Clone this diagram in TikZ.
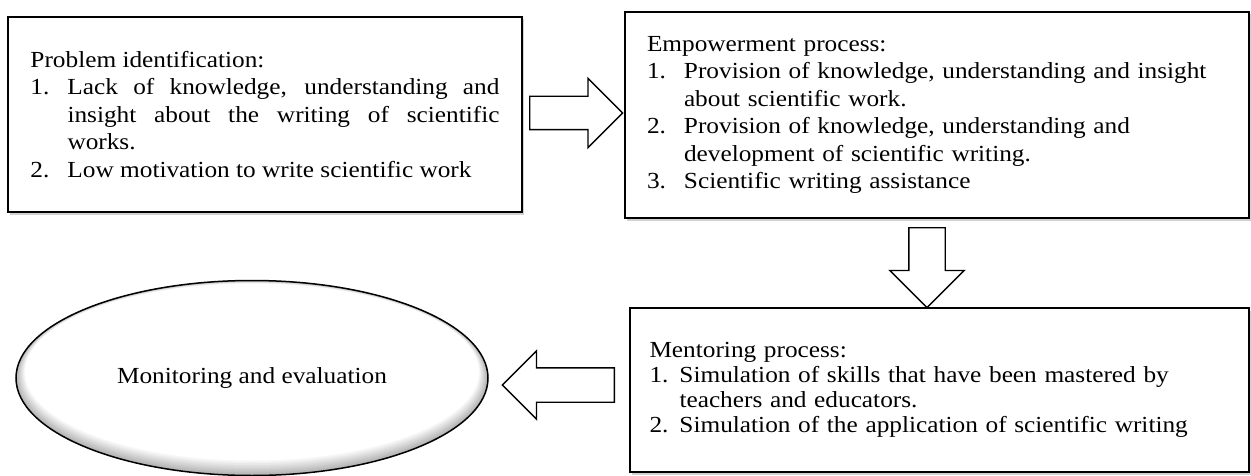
\documentclass[tikz,border=0pt]{standalone}
\usepackage{fontspec}
\setmainfont{Liberation Serif}[FakeStretch=1.1]
\usetikzlibrary{shapes.geometric,shapes.arrows,shadows}

\newlength{\itmind}
\setlength{\itmind}{37pt}
\newcommand{\itm}[2]{\par\noindent\hangindent=\itmind\hangafter=1\makebox[\itmind][l]{#1}#2}

\tikzset{
  procbox/.style={draw, rectangle, line width=1.6pt, fill=white, inner xsep=0pt,
    font=\fontsize{23}{27.5}\selectfont,
    drop shadow={shadow xshift=1.5pt, shadow yshift=-2.5pt, fill=black, opacity=0.18}},
  blockarr/.style={single arrow, draw, fill=white, line width=1.4pt, inner xsep=0pt,
    single arrow tip angle=90, anchor=tail},
}

\begin{document}
\begin{tikzpicture}[x=1pt,y=-1pt]
\useasboundingbox (0,0) rectangle (1251,476);

% process boxes
\node [procbox, minimum width=514pt, minimum height=195pt, text width=469pt, align=justify] (probid) at (265,114.5) {%
\noindent Problem identification:
\itm{1.}{Lack of knowledge, understanding and\linebreak insight about the writing of scientific\linebreak works.}
\itm{2.}{Low motivation to write scientific work}};

\node [procbox, minimum width=624pt, minimum height=206pt, text width=580pt, align=left] (empower) at (937,115) {%
\noindent Empowerment process:
\itm{1.}{Provision of knowledge, understanding and insight\linebreak about scientific work.}
\itm{2.}{Provision of knowledge, understanding and\linebreak development of scientific writing.}
\itm{3.}{Scientific writing assistance}};

\node [procbox, minimum width=619pt, minimum height=164pt, text width=580pt, align=left,
  font=\fontsize{23}{25}\selectfont] (mentor) at (939.5,390) {%
\setlength{\itmind}{30pt}%
\noindent Mentoring process:
\itm{1.}{Simulation of skills that have been mastered by\linebreak teachers and educators.}
\itm{2.}{Simulation of the application of scientific writing}};

% monitoring ellipse with grey rim
\node [ellipse, minimum width=472pt, minimum height=195pt, inner sep=0pt,
  font=\fontsize{23}{27}\selectfont,
  path picture={
    \foreach \k in {0,...,10} {
      \pgfmathsetmacro\shade{60-6*\k}
      \fill [gray!\shade] ([yshift=0.6*\k pt]path picture bounding box.center)
        ellipse [x radius=236pt-0.9*\k pt, y radius=97.5pt-0.9*\k pt];
    }
  }] (monitor) at (252,378) {Monitoring and evaluation};
\draw [line width=1.5pt] (monitor.center) ellipse [x radius=236pt, y radius=97.5pt];

% block arrows
\node [blockarr, inner ysep=16pt, single arrow head extend=18pt, minimum height=93pt] (arrA) at (529,113) {};
\node [blockarr, inner ysep=17.5pt, single arrow head extend=19pt, minimum height=80pt, rotate=-90] (arrB) at (927,227) {};
\node [blockarr, inner ysep=16.5pt, single arrow head extend=17pt, minimum height=112pt, rotate=180] (arrC) at (615,385) {};

\end{tikzpicture}
\end{document}
